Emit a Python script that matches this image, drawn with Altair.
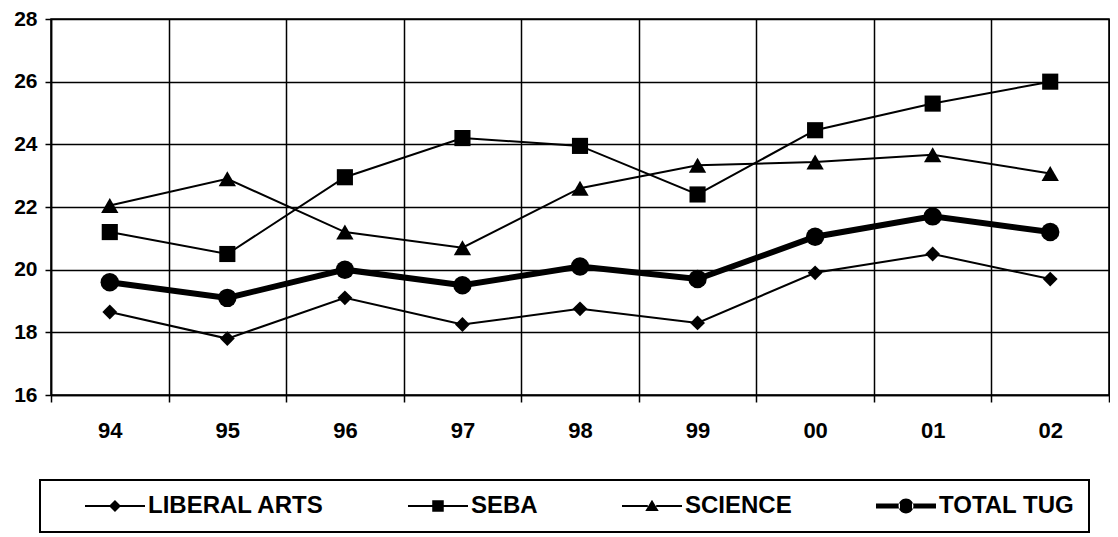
import altair as alt
import pandas as pd

years = ["94", "95", "96", "97", "98", "99", "00", "01", "02"]
series = ["LIBERAL ARTS", "SEBA", "SCIENCE", "TOTAL TUG"]
liberal_arts = [18.65, 17.8, 19.1, 18.25, 18.75, 18.3, 19.9, 20.5, 19.7]
seba = [21.2, 20.5, 22.95, 24.2, 23.95, 22.4, 24.45, 25.3, 26.0]
science = [22.05, 22.9, 21.2, 20.7, 22.6, 23.33, 23.44, 23.67, 23.07]
total_tug = [19.6, 19.1, 20.0, 19.5, 20.1, 19.7, 21.05, 21.7, 21.2]
y_ticks = [16, 18, 20, 22, 24, 26, 28]

rows = []
for name, vals in zip(series, [liberal_arts, seba, science, total_tug]):
    for yr, v in zip(years, vals):
        rows.append({"year": yr, "series": name, "value": v})
df = pd.DataFrame(rows)

FONT = "Liberation Sans"

x_enc = alt.X(
    "year:N",
    sort=years,
    scale=alt.Scale(type="band", paddingInner=0, paddingOuter=0),
    axis=alt.Axis(
        title=None, labelAngle=0, tickBand="extent", grid=True,
        gridColor="black", gridWidth=1.5, gridOpacity=1,
        domainColor="black", domainWidth=1.5,
        tickColor="black", tickWidth=1.5, tickSize=7,
        labelFont=FONT, labelFontSize=22, labelFontWeight="bold",
        labelColor="black", labelPadding=18,
    ),
)
y_enc = alt.Y(
    "value:Q",
    scale=alt.Scale(domain=[16, 28], nice=False, zero=False),
    axis=alt.Axis(
        title=None, values=y_ticks, grid=True,
        gridColor="black", gridWidth=1.5, gridOpacity=1,
        domainColor="black", domainWidth=1.5,
        tickColor="black", tickWidth=1.5, tickSize=6,
        labelFont=FONT, labelFontSize=21, labelFontWeight="bold",
        labelColor="black", labelPadding=8,
    ),
)

base = alt.Chart(df)

lines = base.mark_line(color="black").encode(
    x=x_enc,
    y=y_enc,
    detail="series:N",
    strokeWidth=alt.condition("datum.series === 'TOTAL TUG'", alt.value(6), alt.value(2)),
)

points = base.mark_point(filled=True, color="black", opacity=1).encode(
    x=x_enc,
    y=y_enc,
    shape=alt.Shape(
        "series:N",
        scale=alt.Scale(domain=series, range=["diamond", "square", "triangle-up", "circle"]),
        legend=None,
    ),
    size=alt.Size(
        "series:O",
        sort=series,
        scale=alt.Scale(domain=series, range=[220, 340, 300, 740]),
        legend=None,
    ),
)

# legend glyphs "—marker—" drawn as SVG paths (unit = 12 px), shifted right of the
# symbol slot so they sit where the reference draws them
S0, S1 = 1.583, 6.583
C = (S0 + S1) / 2


def dashes(half, gap):
    return (f"M{S0},{-half}H{C - gap}V{half}H{S0}Z "
            f"M{C + gap},{-half}H{S1}V{half}H{C + gap}Z ")


legend_paths = [
    dashes(0.085, 0.35) + f"M{C},-0.5L{C + 0.5},0L{C},0.5L{C - 0.5},0Z",
    dashes(0.085, 0.35) + f"M{C - 0.48},-0.48H{C + 0.48}V0.48H{C - 0.48}Z",
    dashes(0.085, 0.35) + f"M{C},-0.52L{C + 0.56},0.42H{C - 0.56}Z",
    dashes(0.21, 0.5) + f"M{C - 0.62},0A0.62,0.62 0 1,0 {C + 0.62},0A0.62,0.62 0 1,0 {C - 0.62},0Z",
]

legend_layer = base.transform_filter("false").mark_point(filled=True, color="black", opacity=1).encode(
    shape=alt.Shape(
        "series:N",
        scale=alt.Scale(domain=series, range=legend_paths),
        legend=alt.Legend(
            title=None, orient="none", legendX=-11, legendY=461,
            direction="horizontal", columns=4, columnPadding=53,
            symbolSize=576, symbolStrokeWidth=0, symbolFillColor="black",
            symbolOpacity=1, labelFont=FONT, labelFontSize=24,
            labelFontWeight="bold", labelColor="black", labelOffset=70,
            labelLimit=400, strokeColor="black", fillColor="white",
            padding=14,
        ),
    ),
)

chart = (
    alt.layer(lines, points, legend_layer)
    .resolve_scale(shape="independent")
    .properties(
        width=1058,
        height=376,
        autosize=alt.AutoSizeParams(type="none"),
        padding={"left": 43, "top": 11, "right": 1, "bottom": 138},
    )
    .configure_view(stroke="black", strokeWidth=1.5)
    .configure_legend(strokeWidth=2)
)

chart.save("out.html", embed_options={"renderer": "svg", "actions": False})
